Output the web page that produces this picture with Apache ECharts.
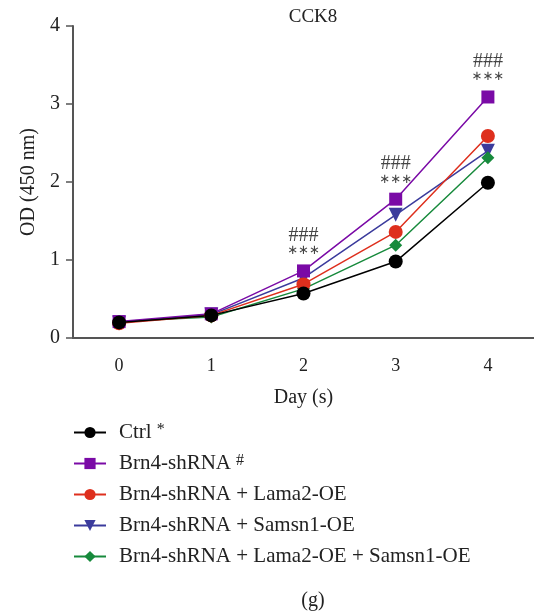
<!DOCTYPE html>
<html>
<head>
<meta charset="utf-8">
<script src="https://cdn.jsdelivr.net/npm/echarts@6/dist/echarts.min.js"></script>
<style>
  html, body { margin: 0; padding: 0; background: #fff; }
  #chart { width: 534px; height: 612px; }
</style>
</head>
<body>
<div id="chart"></div>
<script>
  // days on the x axis
  var days = ['0', '1', '2', '3', '4'];
  // OD (450 nm) per group
  var ctrl = [0.20, 0.29, 0.57, 0.98, 1.99];
  var brn4 = [0.21, 0.31, 0.86, 1.78, 3.09];
  var lama2 = [0.19, 0.29, 0.69, 1.36, 2.59];
  var samsn1 = [0.20, 0.30, 0.77, 1.58, 2.40];
  var both = [0.21, 0.27, 0.63, 1.19, 2.31];
  // significance marks above the Brn4-shRNA points
  var marks = ['', '', '{h|###}\n{s|∗∗∗}', '{h|###}\n{s|∗∗∗}', '{h|###}\n{s|∗∗∗}'];
  var yTicks = [0, 1, 2, 3, 4];

  var font = '"Liberation Serif", "DejaVu Serif", serif';
  var downTri = 'path://M0,0 L10,0 L5,9 Z';
  var chart = echarts.init(document.getElementById('chart'));

  function line(name, data, color, symbol, size){
    return {
      name: name,
      type: 'line',
      data: data,
      symbol: symbol,
      symbolSize: size,
      showAllSymbol: true,
      lineStyle: { color: color, width: 1.5 },
      itemStyle: { color: color },
      emphasis: { disabled: true },
      animation: false
    };
  }

  var sBrn4 = line('Brn4-shRNA', brn4, '#7a0aa6', 'rect', 13);
  sBrn4.label = {
    show: true,
    position: 'top',
    distance: 6,
    formatter: function(p){ return marks[p.dataIndex]; },
    rich: {
      h: { fontFamily: font, fontSize: 20, color: '#444', lineHeight: 16 },
      s: { fontFamily: '"DejaVu Sans", sans-serif', fontSize: 13, color: '#444', lineHeight: 15 }
    }
  };

  chart.setOption({
    title: [
      { text: 'CCK8', left: 308, top: 3, textAlign: 'center',
        textStyle: { fontFamily: font, fontSize: 19, fontWeight: 'normal', color: '#222' } },
      { text: '(g)', left: 308, top: 586, textAlign: 'center',
        textStyle: { fontFamily: font, fontSize: 20, fontWeight: 'normal', color: '#222' } }
    ],
    grid: { left: 73, top: 26, height: 312, width: 470 },
    xAxis: {
      type: 'category',
      data: days,
      boundaryGap: true,
      name: 'Day (s)',
      nameLocation: 'middle',
      nameGap: 50,
      nameTextStyle: { fontFamily: font, fontSize: 20, color: '#222' },
      axisLine: { lineStyle: { color: '#555', width: 2 } },
      axisTick: { alignWithLabel: true, length: 7, lineStyle: { color: '#555', width: 1.5 } },
      axisLabel: { margin: 19, fontFamily: font, fontSize: 18, color: '#222' }
    },
    yAxis: {
      type: 'value',
      min: 0,
      max: 4,
      interval: 1,
      name: 'OD (450 nm)',
      nameLocation: 'middle',
      nameGap: 34,
      nameTextStyle: { fontFamily: font, fontSize: 20, color: '#222' },
      splitLine: { show: false },
      axisLine: { show: true, lineStyle: { color: '#555', width: 2 } },
      axisTick: { show: true, length: 7, lineStyle: { color: '#555', width: 1.5 } },
      axisLabel: { margin: 13, fontFamily: font, fontSize: 20, color: '#222',
        formatter: function(v){ return yTicks.indexOf(v) >= 0 ? String(v) : ''; } }
    },
    legend: {
      orient: 'vertical',
      left: 68,
      top: 417,
      itemGap: 10,
      itemWidth: 32,
      itemHeight: 14,
      data: ['Ctrl', 'Brn4-shRNA', 'Brn4-shRNA + Lama2-OE', 'Brn4-shRNA + Samsn1-OE', 'Brn4-shRNA + Lama2-OE + Samsn1-OE'],
      formatter: function(name){
        if (name === 'Ctrl') return name + '{sup|*}';
        if (name === 'Brn4-shRNA') return name + '{sup|#}';
        return name;
      },
      textStyle: {
        fontFamily: font, fontSize: 21, color: '#222', lineHeight: 21, padding: [0, 0, 0, 8],
        rich: { sup: { fontFamily: font, fontSize: 16, color: '#222', lineHeight: 10, verticalAlign: 'top', padding: [0, 0, 0, 5] } }
      }
    },
    series: [
      line('Brn4-shRNA + Samsn1-OE', samsn1, '#3b3b9c', downTri, 14),
      line('Brn4-shRNA + Lama2-OE + Samsn1-OE', both, '#178a3c', 'diamond', 13),
      line('Brn4-shRNA + Lama2-OE', lama2, '#de2f1d', 'circle', 14),
      sBrn4,
      line('Ctrl', ctrl, '#000000', 'circle', 14)
    ]
  });
</script>
</body>
</html>
